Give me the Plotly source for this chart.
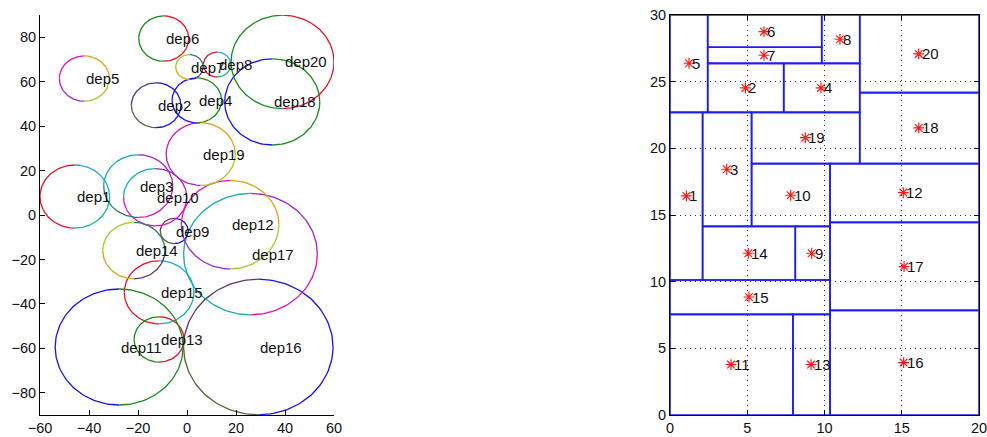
import numpy as np
import plotly.graph_objects as go

# ---------------- data: left panel (circles) ----------------
dep_names = [f"dep{i}" for i in range(1, 21)]
circle_x = [-45.8, -12.6, -19.9, 4.0, -41.9, -9.5, 1.0, 12.3, -5.2, -13.0,
            -27.7, 17.6, -11.4, -21.7, -11.4, 29.1, 25.9, 34.8, 5.6, 39.0]
circle_y = [8.3, 49.4, 13.0, 51.6, 61.4, 79.4, 66.6, 67.7, -7.2, 8.0,
            -59.4, -4.35, -56.0, -16.0, -34.8, -59.4, -17.6, 50.9, 27.4, 68.9]
circle_r = [14.2, 10.1, 14.1, 10.1, 10.2, 10.2, 5.6, 5.6, 5.7, 12.9,
            26.1, 19.9, 10.2, 12.7, 14.2, 30.5, 27.3, 19.4, 14.1, 21.0]

# ---------------- data: right panel (rectangles + points) ----------------
rect_x0 = [0, 2.44, 2.11, 7.36, 0, 2.44, 2.44, 9.82, 8.11, 5.28,
           0, 10.36, 7.96, 2.11, 0, 10.36, 10.36, 12.28, 5.28, 12.28]
rect_x1 = [2.11, 7.36, 5.28, 12.28, 2.44, 9.82, 9.82, 12.28, 10.36, 10.36,
           7.96, 20, 10.36, 8.11, 10.36, 20, 20, 20, 12.28, 20]
rect_y0 = [10.125, 22.7, 14.15, 22.7, 22.7, 27.58, 26.375, 26.375, 10.125, 14.15,
           0, 14.45, 0, 10.125, 7.55, 0, 7.85, 18.85, 18.85, 24.18]
rect_y1 = [22.7, 26.375, 22.7, 26.375, 30, 30, 27.58, 30, 14.15, 18.85,
           7.55, 18.85, 7.55, 14.15, 10.125, 7.85, 14.45, 24.18, 22.7, 30]
point_x = [1.06, 4.88, 3.67, 9.77, 1.23, 6.08, 6.08, 11.0, 9.17, 7.81,
           3.95, 15.1, 9.13, 5.07, 5.11, 15.12, 15.15, 16.1, 8.76, 16.1]
point_y = [16.43, 24.53, 18.43, 24.53, 26.38, 28.75, 26.98, 28.18, 12.13, 16.48,
           3.78, 16.68, 3.78, 12.13, 8.85, 3.93, 11.13, 21.53, 20.8, 27.08]
point_labels = [str(i) for i in range(1, 21)]

left_xticks = [-60, -40, -20, 0, 20, 40, 60]
left_yticks = [-80, -60, -40, -20, 0, 20, 40, 60, 80]
right_xticks = [0, 5, 10, 15, 20]
right_yticks = [0, 5, 10, 15, 20, 25, 30]

# ---------------- styles ----------------
R = "#e8102a"; G = "#1a8a1a"; B = "#1414f0"; M = "#e014b4"; O = "#e0a418"
LG = "#a8c828"; P = "#a028c8"; T = "#18b0a0"; LB = "#20a8e0"
DP = "#5c3a64"; OL = "#6a5a3a"; DT = "#2c7a70"
# quadrant colours: (top-left, top-right, bottom-right, bottom-left)
quad_colors = [
    (R, LB, T, R),      # dep1
    (DP, B, B, OL),     # dep2
    (T, P, M, DT),      # dep3
    (B, G, G, B),       # dep4
    (M, O, LG, P),      # dep5
    (G, R, R, G),       # dep6
    (LG, DT, DP, O),    # dep7
    (R, LB, T, R),      # dep8
    (DP, B, B, OL),     # dep9
    (T, P, M, M),       # dep10
    (B, G, G, B),       # dep11
    (M, O, LG, P),      # dep12
    (G, R, R, G),       # dep13
    (LG, DT, DP, O),    # dep14
    (R, LB, T, R),      # dep15
    (DP, B, B, OL),     # dep16
    (T, P, M, T),       # dep17
    (B, G, G, B),       # dep18
    (M, O, LG, P),      # dep19
    (G, R, R, G),       # dep20
]
quad_angles = [(90, 180), (0, 90), (270, 360), (180, 270)]

fig = go.Figure()

# group arcs by colour
arcs = {}
for i in range(len(dep_names)):
    for q, (a0, a1) in enumerate(quad_angles):
        c = quad_colors[i][q]
        t = np.radians(np.linspace(a0, a1, 40))
        xs = list(circle_x[i] + circle_r[i] * np.cos(t))
        ys = list(circle_y[i] + circle_r[i] * np.sin(t))
        d = arcs.setdefault(c, ([], []))
        d[0].extend(xs + [None])
        d[1].extend(ys + [None])
for c, (xs, ys) in arcs.items():
    fig.add_trace(go.Scatter(x=xs, y=ys, mode="lines", line=dict(color=c, width=1.3),
                             hoverinfo="skip", showlegend=False, xaxis="x", yaxis="y"))

for i, name in enumerate(dep_names):
    fig.add_annotation(x=circle_x[i], y=circle_y[i], text=name, xref="x", yref="y",
                       xanchor="left", yanchor="middle", showarrow=False,
                       font=dict(size=15, color="#111"))

# rectangles
rx, ry = [], []
for i in range(len(rect_x0)):
    rx += [rect_x0[i], rect_x1[i], rect_x1[i], rect_x0[i], rect_x0[i], None]
    ry += [rect_y0[i], rect_y0[i], rect_y1[i], rect_y1[i], rect_y0[i], None]
fig.add_trace(go.Scatter(x=rx, y=ry, mode="lines", line=dict(color="#1c1cf5", width=1.6),
                         hoverinfo="skip", showlegend=False, xaxis="x2", yaxis="y2"))
fig.add_trace(go.Scatter(x=point_x, y=point_y, mode="markers",
                         marker=dict(symbol="asterisk-open", size=9, color="#ff1a1a",
                                     line=dict(color="#ff1a1a", width=1.2)),
                         hoverinfo="skip", showlegend=False, xaxis="x2", yaxis="y2"))
for i, lab in enumerate(point_labels):
    fig.add_annotation(x=point_x[i], y=point_y[i], text=lab, xref="x2", yref="y2",
                       xanchor="left", yanchor="middle", showarrow=False, xshift=1,
                       font=dict(size=15, color="#111"))

W, H = 987, 437
ydom = [(H - 415) / H, (H - 15) / H]
tickfont = dict(size=14.5, color="#111", family="Liberation Sans, Arial, sans-serif")
common = dict(ticks="inside", ticklen=5, tickcolor="black", showline=True,
              linecolor="black", linewidth=1, zeroline=False, tickfont=tickfont,
              automargin=False, ticklabeloverflow="allow")
grid = dict(showgrid=True, gridcolor="#333", griddash="1px,4px", gridwidth=1)

fig.update_layout(
    width=W, height=H,
    margin=dict(l=0, r=0, t=0, b=0, pad=0),
    paper_bgcolor="white", plot_bgcolor="white",
    font=dict(family="Liberation Sans, Arial, sans-serif"),
    xaxis=dict(domain=[40 / W, 334 / W], range=[-60, 60], tickvals=left_xticks,
               showgrid=False, anchor="y", **common),
    yaxis=dict(domain=ydom, range=[-90, 90], tickvals=left_yticks,
               showgrid=False, anchor="x", **common),
    xaxis2=dict(domain=[670 / W, 979 / W], range=[0, 20], tickvals=right_xticks,
                mirror="ticks", anchor="y2", **grid, **common),
    yaxis2=dict(domain=ydom, range=[0, 30], tickvals=right_yticks,
                mirror="ticks", anchor="x2", **grid, **common),
)

fig.write_html("out.html", config={"displayModeBar": False},
               post_script="document.body.style.margin='0';document.body.style.padding='0';"
                           "document.body.style.overflow='hidden';")
